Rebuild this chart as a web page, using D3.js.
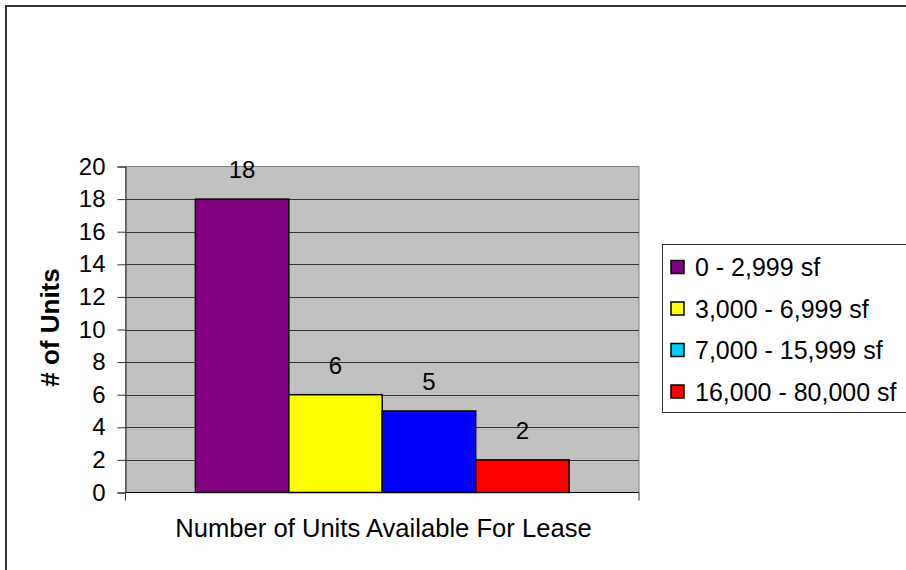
<!DOCTYPE html>
<html>
<head>
<meta charset="utf-8">
<script src="https://cdn.jsdelivr.net/npm/d3@7"></script>
<style>
  body { margin: 0; background: #fff; }
  svg { display: block; font-family: Arial, "Liberation Sans", sans-serif; }
</style>
</head>
<body>
<div id="chart"></div>
<script>
// Chart data
const categories = ["Number of Units Available For Lease"];
const seriesNames = ["0 - 2,999 sf", "3,000 - 6,999 sf", "7,000 - 15,999 sf", "16,000 - 80,000 sf"];
const seriesValues = [18, 6, 5, 2];
const barColors = ["#800080", "#ffff00", "#0000ff", "#ff0000"];
const legendColors = ["#800080", "#ffff00", "#00ccff", "#ff0000"];
const yTicks = [0, 2, 4, 6, 8, 10, 12, 14, 16, 18, 20];

const W = 906, H = 570;
const plot = { left: 125.5, right: 639, top: 166.5, bottom: 492.5 };

const svg = d3.select("#chart")
    .append("svg")
    .attr("width", W)
    .attr("height", H);

// Outer chart frame (runs off the right and bottom edges)
svg.append("rect")
    .attr("x", 6)
    .attr("y", 6)
    .attr("width", W + 20)
    .attr("height", H + 20)
    .attr("fill", "#fff")
    .attr("stroke", "#333")
    .attr("stroke-width", 2);

// Scales
const x0 = d3.scaleBand()
    .domain(categories)
    .range([plot.left, plot.right])
    .paddingInner(0)
    .paddingOuter(0.187);

const x1 = d3.scaleBand()
    .domain(seriesNames)
    .range([0, x0.bandwidth()])
    .padding(0);

const y = d3.scaleLinear()
    .domain([0, 20])
    .range([plot.bottom, plot.top]);

// Plot area background
svg.append("rect")
    .attr("x", plot.left)
    .attr("y", plot.top)
    .attr("width", plot.right - plot.left)
    .attr("height", plot.bottom - plot.top)
    .attr("fill", "#c0c0c0")
    .attr("stroke", "#808080")
    .attr("stroke-width", 1);

// Gridlines
svg.append("g")
    .selectAll("line")
    .data(yTicks.filter(d => d > 0 && d < 20))
    .enter()
    .append("line")
    .attr("x1", plot.left)
    .attr("x2", plot.right)
    .attr("y1", d => Math.round(y(d)) + 0.5)
    .attr("y2", d => Math.round(y(d)) + 0.5)
    .attr("stroke", "#333")
    .attr("stroke-width", 1);

// Y axis
const yAxis = svg.append("g")
    .attr("transform", "translate(" + plot.left + ",0)")
    .call(d3.axisLeft(y).tickValues(yTicks).tickSize(8).tickPadding(12));
yAxis.select(".domain").attr("stroke", "#333");
yAxis.selectAll(".tick line").attr("stroke", "#333");
yAxis.selectAll("text")
    .attr("fill", "#000")
    .style("font-family", "Arial, 'Liberation Sans', sans-serif")
    .style("font-size", "24px");

// X axis (category boundaries)
const xAxisG = svg.append("g")
    .attr("transform", "translate(0," + plot.bottom + ")");
xAxisG.append("line")
    .attr("x1", plot.left)
    .attr("x2", plot.right)
    .attr("stroke", "#000")
    .attr("stroke-width", 1);
xAxisG.selectAll("line.edge")
    .data([plot.left, plot.right])
    .enter()
    .append("line")
    .attr("class", "edge")
    .attr("x1", d => d)
    .attr("x2", d => d)
    .attr("y1", 0)
    .attr("y2", 8)
    .attr("stroke", "#333");

// Bars
const group = svg.append("g")
    .attr("transform", "translate(" + x0(categories[0]) + ",0)");

group.selectAll("rect")
    .data(seriesValues)
    .enter()
    .append("rect")
    .attr("x", (d, i) => x1(seriesNames[i]))
    .attr("y", d => y(d))
    .attr("width", x1.bandwidth())
    .attr("height", d => plot.bottom - y(d))
    .attr("fill", (d, i) => barColors[i])
    .attr("stroke", "#000")
    .attr("stroke-width", 1.5);

// Value labels
group.selectAll("text")
    .data(seriesValues)
    .enter()
    .append("text")
    .attr("x", (d, i) => x1(seriesNames[i]) + x1.bandwidth() / 2)
    .attr("y", d => y(d) - 21)
    .attr("text-anchor", "middle")
    .attr("fill", "#000")
    .style("font-size", "24px")
    .text(d => d);

// Axis titles
svg.append("text")
    .attr("x", 383.5)
    .attr("y", 537)
    .attr("text-anchor", "middle")
    .attr("fill", "#000")
    .style("font-size", "25.6px")
    .text(categories[0]);

svg.append("text")
    .attr("transform", "translate(58.5,327.5) rotate(-90)")
    .attr("text-anchor", "middle")
    .attr("fill", "#000")
    .attr("font-weight", "bold")
    .style("font-size", "26px")
    .text("# of Units");

// Legend
const legend = svg.append("g")
    .attr("transform", "translate(662,244)");

legend.append("rect")
    .attr("x", 0.5)
    .attr("y", 0.5)
    .attr("width", 300)
    .attr("height", 168)
    .attr("fill", "#fff")
    .attr("stroke", "#333")
    .attr("stroke-width", 1);

const items = legend.selectAll("g.item")
    .data(seriesNames)
    .enter()
    .append("g")
    .attr("class", "item")
    .attr("transform", (d, i) => "translate(0," + (23 + i * 41.5) + ")");

items.append("rect")
    .attr("x", 9)
    .attr("y", -6.5)
    .attr("width", 13)
    .attr("height", 13)
    .attr("fill", (d, i) => legendColors[i])
    .attr("stroke", "#000")
    .attr("stroke-width", 1.5);

items.append("text")
    .attr("x", 33)
    .attr("y", 0)
    .attr("dy", "0.36em")
    .attr("fill", "#000")
    .style("font-size", "25px")
    .text(d => d);
</script>
</body>
</html>
